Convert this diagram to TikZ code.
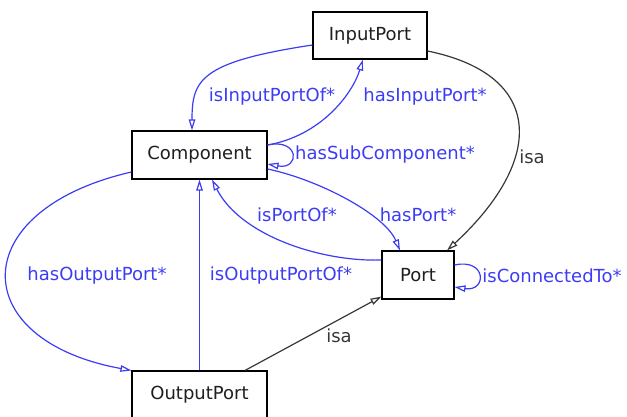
\documentclass[tikz,border=0pt]{standalone}
\usepackage{fontspec}
\setmainfont{DejaVu Sans}
\usetikzlibrary{arrows.meta,calc}
\definecolor{relblue}{RGB}{60,60,245}
\definecolor{isagray}{RGB}{55,55,55}
\tikzset{
  cls/.style={draw=black, line width=1.1pt, fill=white, inner sep=0pt,
              minimum height=48pt, text=black!88, font=\fontsize{18}{20}\selectfont},
  rel/.style={draw=relblue, line width=1.2pt,
              -{Triangle[open,length=11pt,width=6.5pt]}},
  isarel/.style={draw=isagray, line width=1.2pt,
              -{Triangle[open,length=11pt,width=6.5pt]}},
  rellabel/.style={text=relblue, inner sep=0pt, font=\fontsize{18}{20}\selectfont},
  isalabel/.style={text=isagray, inner sep=0pt, font=\fontsize{18}{20}\selectfont},
}
\begin{document}
\begin{tikzpicture}[x=1pt, y=-1pt]
  \useasboundingbox (0,0) rectangle (627,417);
  \clip (0,0) rectangle (627,417);

  % classes
  \node[cls, minimum width=114pt, minimum height=47pt] (in)   at (370,35.5) {InputPort};
  \node[cls, minimum width=135pt] (comp) at (199.5,155) {Component};
  \node[cls, minimum width=72pt]  (port) at (418,275)   {Port};
  \node[cls, minimum width=135pt] (out)  at (199.5,395) {OutputPort};

  % relations
  \draw[rel] ($(in.west)+(0,9.5)$) .. controls (200,62) and (192,80) .. ($(comp.north)+(-7.5,0)$);
  \draw[rel] ($(comp.east)+(0,-10)$) .. controls (320,136) and (352,95) .. ($(in.south)+(-7,0)$);
  \draw[rel] ($(comp.east)+(0,-10)$) .. controls (300,138) and (300,170) .. ($(comp.east)+(0,9)$);
  \draw[rel] ($(comp.east)+(0,14)$) .. controls (320,180) and (385,215) .. ($(port.north)+(-18,0)$);
  \draw[rel] ($(port.west)+(0,-15)$) .. controls (320,262) and (240,235) .. ($(comp.south)+(12.5,0)$);
  \draw[rel] ($(comp.west)+(0,17)$) .. controls (-35,210) and (-35,340) .. (out.north west);
  \draw[rel] (out.north) -- (comp.south);
  \draw[rel] ($(port.east)+(0,-10)$) .. controls (487,258) and (487,292) .. ($(port.east)+(0,12)$);

  % subclass links
  \draw[isarel] ($(in.east)+(0,15.5)$) .. controls (545,75) and (545,160) .. ($(port.north)+(29,0)$);
  \draw[isarel] ($(out.north)+(45.5,0)$) -- ($(port.south west)+(0,-3)$);

  % labels
  \node[rellabel] (l1) at (272,97)  {isInputPortOf*};
  \node[rellabel] (l2) at (425,97)  {hasInputPort*};
  \node[rellabel] (l3) at (385,155) {hasSubComponent*};
  \node[isalabel] (l4) at (532,157) {isa};
  \node[rellabel] (l5) at (418,215) {hasPort*};
  \node[rellabel] (l6) at (297,215) {isPortOf*};
  \node[rellabel] (l7) at (97,276)  {hasOutputPort*};
  \node[rellabel] (l8) at (281,276) {isOutputPortOf*};
  \node[rellabel] (l9) at (552,276) {isConnectedTo*};
  \node[isalabel] (l10) at (339,336) {isa};
\end{tikzpicture}
\end{document}
